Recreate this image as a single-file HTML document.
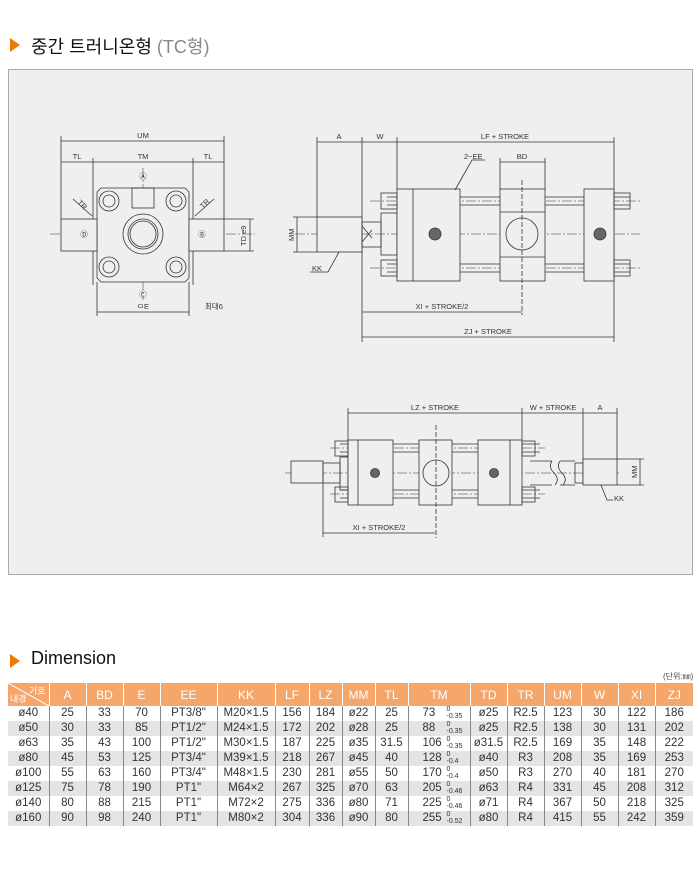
<!DOCTYPE html>
<html><head><meta charset="utf-8"><style>
body{margin:0;width:700px;height:876px;background:#fff;position:relative;font-family:"Liberation Sans","Noto Sans CJK KR",sans-serif;overflow:hidden}
.t{position:absolute}
table{position:absolute;left:8px;top:683px;border-collapse:collapse;table-layout:fixed;font-size:11.5px;color:#333}
th{background:#f5a76b;color:#fff;font-weight:normal;height:23px;border-left:1px solid #fff;padding:0;font-size:12px}
td{height:15px;padding:0;text-align:center;border-left:1px solid #888;line-height:15px}
tr.g td{background:#e4e4e4}
td:first-child,th:first-child{border-left:none}
.tm{position:relative}
.tm span.v{position:absolute;left:14px;top:0}
.tm span.s{position:absolute;left:38px;top:0px;font-size:7px;line-height:7px;text-align:left}
</style></head><body>
<div class="t" style="left:10px;top:38px;width:0;height:0;border-top:7px solid transparent;border-bottom:7px solid transparent;border-left:10px solid #f07800"></div>
<div class="t" style="left:31px;top:33px;font-size:18px;color:#111">중간 트러니온형 <span style="color:#888">(TC형)</span></div>
<div class="t" style="left:8px;top:69px;width:683px;height:504px;background:#efefef;border:1px solid #aaa"></div>
<svg class="t" style="left:0;top:0" width="700" height="600" viewBox="0 0 700 600" font-family="Liberation Sans, Noto Sans CJK KR, sans-serif" font-size="7.5" fill="none" stroke="#333" stroke-width="0.8">
<g stroke-dasharray="10 2 2 2" stroke-width="0.5">
<line x1="50" y1="234" x2="255" y2="234"/><line x1="143" y1="168" x2="143" y2="300"/>
<line x1="295" y1="234" x2="640" y2="234"/><line x1="370" y1="201" x2="640" y2="201"/><line x1="370" y1="268" x2="640" y2="268"/>
<line x1="285" y1="473" x2="620" y2="473"/><line x1="330" y1="448" x2="545" y2="448"/><line x1="330" y1="494" x2="545" y2="494"/>
</g>
<g>
<line x1="61" y1="141" x2="224" y2="141"/><line x1="61" y1="162" x2="224" y2="162"/>
<line x1="61" y1="136" x2="61" y2="219"/><line x1="224" y1="136" x2="224" y2="219"/>
<line x1="93" y1="158" x2="93" y2="285"/><line x1="193" y1="158" x2="193" y2="285"/>
<path d="M101 188 H185 L189 192 V278 L185 282 H101 L97 278 V192 Z" fill="#efefef"/>
<rect x="61" y="219" width="36" height="32" fill="#efefef"/><rect x="189" y="219" width="35" height="32" fill="#efefef"/>
<rect x="132" y="188" width="22" height="20"/>
<circle cx="143" cy="234" r="20"/><circle cx="143" cy="234" r="15"/><circle cx="143" cy="234" r="13"/>
<g><circle cx="109" cy="201" r="10"/><circle cx="109" cy="201" r="6"/><circle cx="176" cy="201" r="10"/><circle cx="176" cy="201" r="6"/><circle cx="109" cy="267" r="10"/><circle cx="109" cy="267" r="6"/><circle cx="176" cy="267" r="10"/><circle cx="176" cy="267" r="6"/></g>
<line x1="97" y1="312" x2="189" y2="312"/><line x1="97" y1="282" x2="97" y2="316"/><line x1="189" y1="282" x2="189" y2="316"/>
<line x1="250" y1="219" x2="250" y2="251"/><line x1="224" y1="219" x2="254" y2="219"/><line x1="224" y1="251" x2="254" y2="251"/>
<line x1="73" y1="199" x2="92" y2="216"/><line x1="214" y1="199" x2="195" y2="216"/>
</g>
<g fill="#333" stroke="none">
<text x="143" y="138" text-anchor="middle">UM</text><text x="77" y="159" text-anchor="middle">TL</text><text x="143" y="159" text-anchor="middle">TM</text><text x="208" y="159" text-anchor="middle">TL</text>
<text x="143" y="179" text-anchor="middle">Ⓐ</text><text x="143" y="297" text-anchor="middle">Ⓒ</text><text x="84" y="237" text-anchor="middle">Ⓓ</text><text x="202" y="237" text-anchor="middle">Ⓑ</text>
<text x="143" y="309" text-anchor="middle">ㅁE</text><text x="205" y="309">최대6</text>
<text transform="translate(246 246) rotate(-90)">TD e9</text>
<text transform="translate(77 203) rotate(45)">TR</text><text transform="translate(203 209) rotate(-45)">TR</text>
</g>
<g>
<line x1="317" y1="142" x2="614" y2="142"/>
<line x1="317" y1="137" x2="317" y2="218"/><line x1="362" y1="137" x2="362" y2="342"/><line x1="397" y1="137" x2="397" y2="190"/><line x1="614" y1="137" x2="614" y2="342"/>
<rect x="317" y="217" width="45" height="35" fill="#efefef"/>
<rect x="362" y="222" width="19" height="25"/><path d="M362 226 L372 238 M362 242 L372 230"/>
<rect x="381" y="213" width="16" height="42"/>
<line x1="387" y1="197" x2="630" y2="197"/><line x1="387" y1="205" x2="630" y2="205"/><line x1="387" y1="264" x2="630" y2="264"/><line x1="387" y1="272" x2="630" y2="272"/>
<rect x="397" y="189" width="63" height="92" fill="#efefef"/><line x1="413" y1="189" x2="413" y2="281"/>
<rect x="500" y="189" width="45" height="92" fill="#efefef"/><line x1="500" y1="212" x2="545" y2="212"/><line x1="500" y1="257" x2="545" y2="257"/>
<rect x="584" y="189" width="30" height="92" fill="#efefef"/>
<circle cx="522" cy="234" r="16"/><line x1="522" y1="180" x2="522" y2="315" stroke-dasharray="5 2"/>
<line x1="500" y1="162" x2="545" y2="162"/><line x1="500" y1="158" x2="500" y2="189"/><line x1="545" y1="158" x2="545" y2="189"/>
<rect x="381" y="193" width="16" height="16"/><rect x="381" y="260" width="16" height="16"/><rect x="614" y="193" width="16" height="16"/><rect x="614" y="260" width="16" height="16"/>
<circle cx="435" cy="234" r="6" fill="#666"/><circle cx="600" cy="234" r="6" fill="#666"/>
<line x1="362" y1="312" x2="522" y2="312"/><line x1="362" y1="337" x2="614" y2="337"/>
<line x1="297" y1="217" x2="297" y2="252"/><line x1="293" y1="217" x2="317" y2="217"/><line x1="293" y1="252" x2="317" y2="252"/>
<path d="M339 252 L328 272 H310"/><path d="M455 190 L472 160 H485"/>
</g>
<g fill="#333" stroke="none">
<text x="339" y="139" text-anchor="middle">A</text><text x="380" y="139" text-anchor="middle">W</text><text x="505" y="139" text-anchor="middle">LF + STROKE</text>
<text x="464" y="159">2−EE</text><text x="522" y="159" text-anchor="middle">BD</text>
<text x="442" y="309" text-anchor="middle">XI + STROKE/2</text><text x="488" y="334" text-anchor="middle">ZJ + STROKE</text>
<text x="312" y="271">KK</text><text transform="translate(294 241) rotate(-90)">MM</text>
</g>
<g>
<line x1="348" y1="413" x2="617" y2="413"/>
<line x1="348" y1="408" x2="348" y2="440"/><line x1="522" y1="408" x2="522" y2="440"/><line x1="583" y1="408" x2="583" y2="460"/><line x1="617" y1="408" x2="617" y2="460"/>
<line x1="340" y1="444" x2="540" y2="444"/><line x1="340" y1="452" x2="540" y2="452"/><line x1="340" y1="490" x2="540" y2="490"/><line x1="340" y1="498" x2="540" y2="498"/>
<rect x="291" y="461" width="32" height="22" fill="#efefef"/><rect x="323" y="463" width="17" height="20"/><rect x="340" y="457" width="8" height="33"/>
<rect x="348" y="440" width="45" height="65" fill="#efefef"/><line x1="358" y1="440" x2="358" y2="505"/>
<rect x="419" y="440" width="33" height="65" fill="#efefef"/>
<rect x="478" y="440" width="44" height="65" fill="#efefef"/><line x1="510" y1="440" x2="510" y2="505"/>
<circle cx="436" cy="473" r="13"/><line x1="436" y1="425" x2="436" y2="538" stroke-dasharray="5 2"/>
<rect x="335" y="441" width="13" height="15"/><rect x="335" y="487" width="13" height="15"/><rect x="522" y="441" width="13" height="15"/><rect x="522" y="487" width="13" height="15"/>
<path d="M530 461 H552 M530 485 H552 M560 461 H575 M560 485 H575 M552 461 Q548 467 554 473 Q560 479 555 485 M560 461 Q556 467 562 473 Q568 479 563 485"/>
<rect x="575" y="463" width="8" height="20"/>
<rect x="583" y="459" width="34" height="26" fill="#efefef"/>
<circle cx="375" cy="473" r="4.5" fill="#666"/><circle cx="494" cy="473" r="4.5" fill="#666"/>
<line x1="323" y1="533" x2="435" y2="533"/><line x1="323" y1="483" x2="323" y2="537"/>
<line x1="640" y1="459" x2="640" y2="485"/><line x1="617" y1="459" x2="644" y2="459"/><line x1="617" y1="485" x2="644" y2="485"/>
<path d="M601 485 L607 500 H613"/>
</g>
<g fill="#333" stroke="none">
<text x="435" y="410" text-anchor="middle">LZ + STROKE</text><text x="553" y="410" text-anchor="middle">W + STROKE</text><text x="600" y="410" text-anchor="middle">A</text>
<text x="379" y="530" text-anchor="middle">XI + STROKE/2</text><text x="614" y="501">KK</text><text transform="translate(637 478) rotate(-90)">MM</text>
</g>
</svg>
<div class="t" style="left:10px;top:654px;width:0;height:0;border-top:7px solid transparent;border-bottom:7px solid transparent;border-left:10px solid #f07800"></div>
<div class="t" style="left:31px;top:648px;font-size:18px;color:#111">Dimension</div>
<div class="t" style="left:663px;top:671px;font-size:8px;color:#444">(단위:㎜)</div>
<table>
<colgroup><col style="width:41px"><col style="width:37px"><col style="width:37px"><col style="width:37px"><col style="width:57px"><col style="width:58px"><col style="width:34px"><col style="width:33px"><col style="width:33px"><col style="width:33px"><col style="width:62px"><col style="width:37px"><col style="width:37px"><col style="width:37px"><col style="width:37px"><col style="width:37px"><col style="width:38px"></colgroup>
<tr><th style="position:relative;font-size:9px"><span style="position:absolute;right:3px;top:1px">기호</span><span style="position:absolute;left:2px;bottom:1px">내경</span><svg style="position:absolute;left:0;top:0" width="41" height="23"><line x1="0" y1="0" x2="41" y2="23" stroke="#fff"/></svg></th><th>A</th><th>BD</th><th>E</th><th>EE</th><th>KK</th><th>LF</th><th>LZ</th><th>MM</th><th>TL</th><th>TM</th><th>TD</th><th>TR</th><th>UM</th><th>W</th><th>XI</th><th>ZJ</th></tr>
<tr><td>ø40</td><td>25</td><td>33</td><td>70</td><td>PT3/8"</td><td>M20×1.5</td><td>156</td><td>184</td><td>ø22</td><td>25</td><td class="tm"><span class="v">73</span><span class="s">0<br>-0.35</span></td><td>ø25</td><td>R2.5</td><td>123</td><td>30</td><td>122</td><td>186</td></tr>
<tr class="g"><td>ø50</td><td>30</td><td>33</td><td>85</td><td>PT1/2"</td><td>M24×1.5</td><td>172</td><td>202</td><td>ø28</td><td>25</td><td class="tm"><span class="v">88</span><span class="s">0<br>-0.35</span></td><td>ø25</td><td>R2.5</td><td>138</td><td>30</td><td>131</td><td>202</td></tr>
<tr><td>ø63</td><td>35</td><td>43</td><td>100</td><td>PT1/2"</td><td>M30×1.5</td><td>187</td><td>225</td><td>ø35</td><td>31.5</td><td class="tm"><span class="v">106</span><span class="s">0<br>-0.35</span></td><td>ø31.5</td><td>R2.5</td><td>169</td><td>35</td><td>148</td><td>222</td></tr>
<tr class="g"><td>ø80</td><td>45</td><td>53</td><td>125</td><td>PT3/4"</td><td>M39×1.5</td><td>218</td><td>267</td><td>ø45</td><td>40</td><td class="tm"><span class="v">128</span><span class="s">0<br>-0.4</span></td><td>ø40</td><td>R3</td><td>208</td><td>35</td><td>169</td><td>253</td></tr>
<tr><td>ø100</td><td>55</td><td>63</td><td>160</td><td>PT3/4"</td><td>M48×1.5</td><td>230</td><td>281</td><td>ø55</td><td>50</td><td class="tm"><span class="v">170</span><span class="s">0<br>-0.4</span></td><td>ø50</td><td>R3</td><td>270</td><td>40</td><td>181</td><td>270</td></tr>
<tr class="g"><td>ø125</td><td>75</td><td>78</td><td>190</td><td>PT1"</td><td>M64×2</td><td>267</td><td>325</td><td>ø70</td><td>63</td><td class="tm"><span class="v">205</span><span class="s">0<br>-0.46</span></td><td>ø63</td><td>R4</td><td>331</td><td>45</td><td>208</td><td>312</td></tr>
<tr><td>ø140</td><td>80</td><td>88</td><td>215</td><td>PT1"</td><td>M72×2</td><td>275</td><td>336</td><td>ø80</td><td>71</td><td class="tm"><span class="v">225</span><span class="s">0<br>-0.46</span></td><td>ø71</td><td>R4</td><td>367</td><td>50</td><td>218</td><td>325</td></tr>
<tr class="g"><td>ø160</td><td>90</td><td>98</td><td>240</td><td>PT1"</td><td>M80×2</td><td>304</td><td>336</td><td>ø90</td><td>80</td><td class="tm"><span class="v">255</span><span class="s">0<br>-0.52</span></td><td>ø80</td><td>R4</td><td>415</td><td>55</td><td>242</td><td>359</td></tr>
</table>
</body></html>
